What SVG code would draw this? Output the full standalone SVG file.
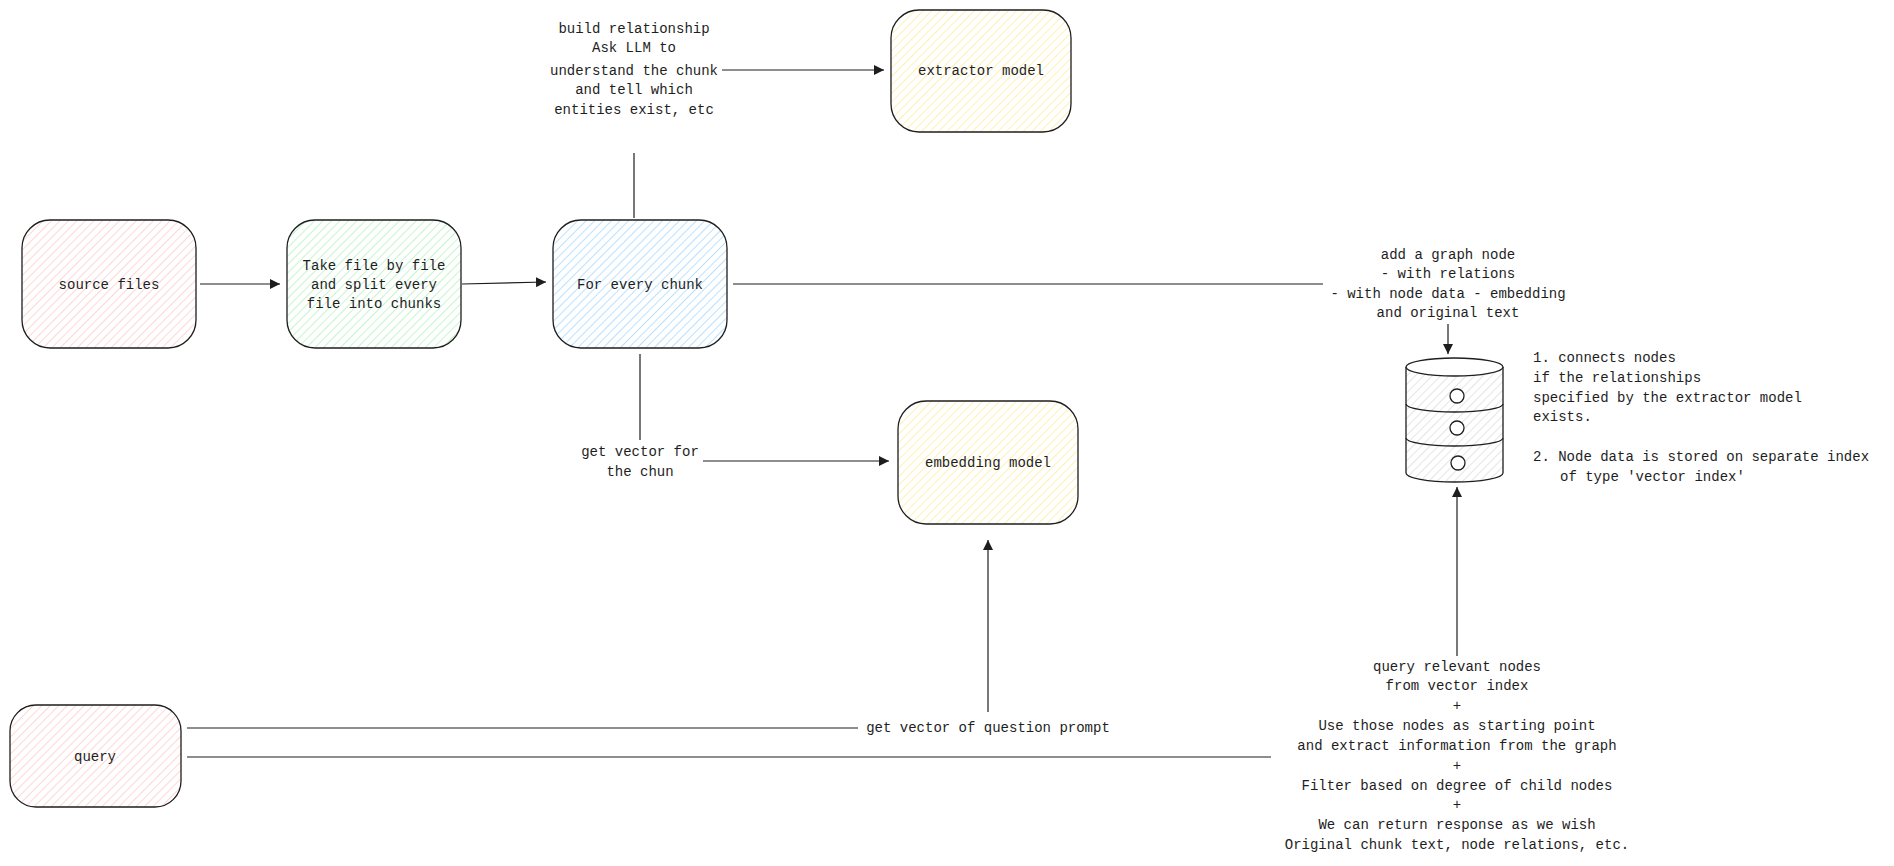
<svg xmlns="http://www.w3.org/2000/svg" width="1894" height="866" viewBox="0 0 1894 866">
<defs>
<pattern id="hp" patternUnits="userSpaceOnUse" width="6" height="6" patternTransform="rotate(45)"><rect width="6" height="6" fill="#fff"/><line x1="0" y1="0" x2="0" y2="6" stroke="#ffc9c9" stroke-width="1.5"/></pattern>
<pattern id="hg" patternUnits="userSpaceOnUse" width="6" height="6" patternTransform="rotate(45)"><rect width="6" height="6" fill="#fff"/><line x1="0" y1="0" x2="0" y2="6" stroke="#b2f2bb" stroke-width="1.5"/></pattern>
<pattern id="hb" patternUnits="userSpaceOnUse" width="6" height="6" patternTransform="rotate(45)"><rect width="6" height="6" fill="#fff"/><line x1="0" y1="0" x2="0" y2="6" stroke="#a5d8ff" stroke-width="1.5"/></pattern>
<pattern id="hy" patternUnits="userSpaceOnUse" width="6" height="6" patternTransform="rotate(45)"><rect width="6" height="6" fill="#fff"/><line x1="0" y1="0" x2="0" y2="6" stroke="#ffec99" stroke-width="1.5"/></pattern>
<pattern id="hk" patternUnits="userSpaceOnUse" width="6" height="6" patternTransform="rotate(45)"><rect width="6" height="6" fill="#fff"/><line x1="0" y1="0" x2="0" y2="6" stroke="#ccc" stroke-width="1"/></pattern>
<marker id="ah" viewBox="0 0 10 10" refX="10" refY="5" markerWidth="10" markerHeight="10" markerUnits="userSpaceOnUse" orient="auto"><path d="M0,0 L10,5 L0,10 Z" fill="#1e1e1e"/></marker>
</defs>
<style>
.n{stroke:#1e1e1e;stroke-width:1.3}
text{font-family:"Liberation Mono","DejaVu Sans Mono",monospace;font-size:14px;fill:#1e1e1e;text-anchor:middle}
.c{fill:none;stroke:#1e1e1e;stroke-width:1.2}
.a{marker-end:url(#ah)}
.l{text-anchor:start}
</style>
<rect width="1894" height="866" fill="#fff"/>
<g id="source-files"><rect class="n" x="22" y="220" width="174" height="128" rx="28" fill="url(#hp)"/><text x="109" y="289">source files</text></g>
<g id="split"><rect class="n" x="287" y="220" width="174" height="128" rx="28" fill="url(#hg)"/><text x="374" y="270">Take file by file</text><text x="374" y="289">and split every</text><text x="374" y="308">file into chunks</text></g>
<g id="chunk"><rect class="n" x="553" y="220" width="174" height="128" rx="28" fill="url(#hb)"/><text x="640" y="289">For every chunk</text></g>
<g id="extractor"><rect class="n" x="891" y="10" width="180" height="122" rx="28" fill="url(#hy)"/><text x="981" y="75">extractor model</text></g>
<g id="embedding"><rect class="n" x="898" y="401" width="180" height="123" rx="28" fill="url(#hy)"/><text x="988" y="467">embedding model</text></g>
<g id="query"><rect class="n" x="10" y="705" width="171" height="102" rx="26" fill="url(#hp)"/><text x="95" y="761">query</text></g>
<g id="db">
<path class="n" d="M1406,367 L1406,473 A48.5,9 0 0 0 1503,473 L1503,367" fill="url(#hk)"/>
<ellipse class="n" cx="1454.5" cy="367" rx="48.5" ry="9" fill="#fff"/>
<path class="n" fill="none" d="M1406,404 A48.5,8 0 0 0 1503,404 M1406,438 A48.5,8 0 0 0 1503,438"/>
<circle class="n" cx="1457" cy="396" r="7" fill="#fff"/><circle class="n" cx="1457" cy="428" r="7" fill="#fff"/><circle class="n" cx="1458" cy="463" r="7" fill="#fff"/>
</g>
<g id="connectors">
<path class="c a" d="M200,284 L280,284"/>
<path class="c a" d="M462,284 L546,282"/>
<path class="c" d="M634,218 L634,153"/>
<path class="c a" d="M722,70 L884,70"/>
<path class="c" d="M733,284 L1323,284"/>
<path class="c a" d="M1448,324 L1448,354"/>
<path class="c" d="M640,354 L640,440"/>
<path class="c a" d="M703,461 L889,461"/>
<path class="c" d="M187,728 L858,728"/>
<path class="c a" d="M988,712 L988,540"/>
<path class="c" d="M187,757 L1271,757"/>
<path class="c a" d="M1457,656 L1457,487"/>
</g>
<g id="labels">
<text x="634" y="33">build relationship</text><text x="634" y="52">Ask LLM to</text><text x="634" y="75">understand the chunk</text><text x="634" y="94">and tell which</text><text x="634" y="114">entities exist, etc</text>
<text x="1448" y="259">add a graph node</text><text x="1448" y="278">- with relations</text><text x="1448" y="298">- with node data - embedding</text><text x="1448" y="317">and original text</text>
<text x="640" y="456">get vector for</text><text x="640" y="476">the chun</text>
<text x="988" y="732">get vector of question prompt</text>
<text x="1457" y="671">query relevant nodes</text><text x="1457" y="690">from vector index</text><text x="1457" y="710">+</text><text x="1457" y="730">Use those nodes as starting point</text><text x="1457" y="750">and extract information from the graph</text><text x="1457" y="770">+</text><text x="1457" y="790">Filter based on degree of child nodes</text><text x="1457" y="809">+</text><text x="1457" y="829">We can return response as we wish</text><text x="1457" y="849">Original chunk text, node relations, etc.</text>
<text class="l" x="1533" y="362">1. connects nodes</text><text class="l" x="1533" y="382">if the relationships</text><text class="l" x="1533" y="402">specified by the extractor model</text><text class="l" x="1533" y="421">exists.</text><text class="l" x="1533" y="461">2. Node data is stored on separate index</text><text class="l" x="1560" y="481">of type 'vector index'</text>
</g>
</svg>
